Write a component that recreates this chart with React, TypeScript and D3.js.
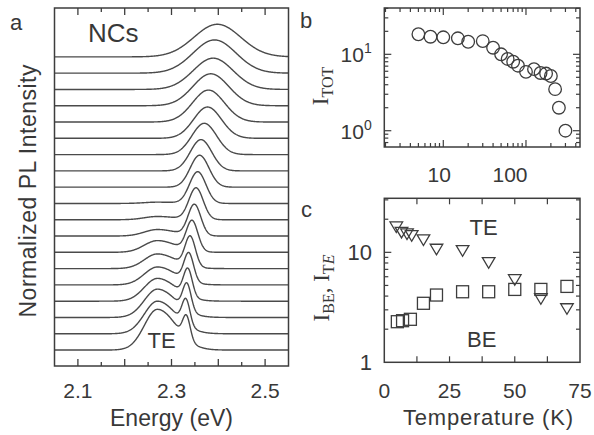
import React from 'react';
import * as d3 from 'd3';

// ---------- Panel a: PL spectra (top curve = index 0) ----------
const energyTicks = [2.1, 2.3, 2.5];
const peakEnergy = [2.398, 2.392, 2.389, 2.384, 2.379, 2.377, 2.37, 2.363, 2.36, 2.356, 2.3525, 2.349, 2.344, 2.34, 2.337, 2.335, 2.333, 2.331, 2.332];
const peakHeight = [1.0, 1.02, 0.96, 0.98, 0.98, 0.96, 0.96, 0.96, 0.98, 0.97, 0.97, 0.95, 0.92, 0.91, 0.86, 0.83, 0.81, 0.77, 0.7];
const peakFWHM = [0.117, 0.108, 0.1, 0.09, 0.08, 0.07, 0.062, 0.054, 0.047, 0.041, 0.036, 0.032, 0.029, 0.026, 0.024, 0.022, 0.021, 0.02, 0.019];
const teHeight = [0, 0, 0, 0, 0, 0, 0, 0, 0, 0.04, 0.1, 0.2, 0.36, 0.45, 0.55, 0.7, 0.87, 1.0, 1.25];
const teEnergy = [2.27];
const teSigma = [0.028, 0.04]; // low side, high side
const curveOffsetStep = [0.5];

// ---------- Panel b: total intensity vs T ----------
const tempTot = [5, 7, 10, 15, 20, 30, 40, 50, 60, 70, 80, 100, 125, 150, 175, 200, 225, 250, 300];
const iTot = [18.3, 17, 16.7, 16.2, 14.6, 14.9, 12.2, 10, 8.7, 8.0, 7.1, 5.9, 6.4, 5.7, 5.6, 5.2, 3.5, 2.0, 1.0];
const tempTickLabelsB = [10, 100];

// ---------- Panel c: BE and TE intensity vs T ----------
const tempBE = [5, 7, 10, 15, 20, 30, 40, 50, 60, 70];
const iBE = [2.34, 2.39, 2.46, 3.44, 4.09, 4.38, 4.38, 4.6, 4.6, 4.9];
const tempTE = [4.6, 6.6, 8.7, 10.5, 15, 20, 30, 40, 50, 60, 70];
const iTE = [16.9, 15.1, 14.6, 14.1, 12.9, 10.6, 10.3, 8.0, 5.6, 3.76, 3.05];
const tempTicksC = [0, 25, 50, 75];
const intTicksC = [1, 10];

const INK = '#3d3d3d';
const TXT = '#383838';
const SANS = "'Liberation Sans', Arial, Helvetica, sans-serif";
const SERIF = "'Liberation Serif', 'Times New Roman', Times, serif";

function gauss(e: number, c: number, sL: number, sR: number) {
  const s = e < c ? sL : sR;
  const z = (e - c) / s;
  return Math.exp(-0.5 * z * z);
}

export default function App() {
  // ----- panel a scales -----
  const ax = d3.scaleLinear().domain([2.05, 2.55]).range([54.5, 288.5]);
  const ay = d3.scaleLinear().domain([-0.49, 10.5]).range([366, 8]);
  const n = peakEnergy.length;
  const grid = d3.range(2.05, 2.5501, 0.001);
  const line = d3
    .line<[number, number]>()
    .x((d) => ax(d[0]))
    .y((d) => ay(d[1]));
  const curves = peakEnergy.map((pe, i) => {
    const off = (n - 1 - i) * curveOffsetStep[0];
    const sig = peakFWHM[i] / 2.355;
    const pts: [number, number][] = grid.map((e) => [
      e,
      off + peakHeight[i] * gauss(e, pe, sig, sig) + teHeight[i] * gauss(e, teEnergy[0], teSigma[0], teSigma[1]),
    ]);
    return line(pts) as string;
  });
  const aTicks = d3.range(2.1, 2.5001, 0.05);

  // ----- panel b scales -----
  const bx = d3.scaleLog().domain([1.935, 450]).range([384.3, 580]);
  const by = d3.scaleLog().domain([0.612, 40.4]).range([147, 8]);
  const bxTicks = bx.ticks().filter((v) => v > 1.94 && v < 449);
  const byTicks = by.ticks().filter((v) => v > 0.613 && v < 40.3);
  const isPow10 = (v: number) => Math.abs(Math.log10(v) - Math.round(Math.log10(v))) < 1e-6;

  // ----- panel c scales -----
  const cx = d3.scaleLinear().domain([0, 75]).range([384.3, 580]);
  const cy = d3.scaleLog().domain([1, 31]).range([362.3, 198.3]);
  const cxTicks = d3.range(12.5, 75, 12.5);
  const cyTicks = cy.ticks().filter((v) => v > 1 && v < 31);

  const tri = (x: number, y: number) => {
    const w = 6.3, h = 5.3;
    return `M${x - w},${y - h}L${x + w},${y - h}L${x},${y + h}Z`;
  };

  return (
    <svg width={594} height={435} style={{ display: 'block', position: 'absolute', left: 0, top: 0, background: '#fff' }}>
      <rect x={0} y={0} width={594} height={435} fill="#fff" />

      {/* ===== Panel a ===== */}
      <g>
        {curves.map((d, i) => (
          <path key={i} d={d} fill="none" stroke="#4a4a4a" strokeWidth={1.4} />
        ))}
        {aTicks.map((v, i) => {
          const major = Math.abs(v * 10 - Math.round(v * 10)) < 1e-6;
          const len = major ? 7 : 4;
          const x = ax(v);
          return (
            <g key={i}>
              <line x1={x} x2={x} y1={366} y2={366 - len} stroke={INK} strokeWidth={1.3} />
              <line x1={x} x2={x} y1={8} y2={8 + len} stroke={INK} strokeWidth={1.3} />
            </g>
          );
        })}
        <rect x={54.5} y={8} width={234} height={358} fill="none" stroke={INK} strokeWidth={1.5} />
        {energyTicks.map((v) => (
          <text key={v} x={ax(v)} y={398} fontSize={21} fontFamily={SANS} fill={TXT} textAnchor="middle">
            {v.toFixed(1)}
          </text>
        ))}
        <text x={171.5} y={426} fontSize={23} fontFamily={SANS} fill={TXT} textAnchor="middle" textLength={123} lengthAdjust="spacing">
          Energy (eV)
        </text>
        <text
          transform="translate(36,191) rotate(-90)"
          fontSize={23}
          fontFamily={SANS}
          fill={TXT}
          textAnchor="middle"
          textLength={253}
          lengthAdjust="spacing"
        >
          Normalized PL Intensity
        </text>
        <text x={10} y={30} fontSize={22} fontFamily={SANS} fill={TXT}>a</text>
        <text x={88} y={42} fontSize={26} fontFamily={SANS} fill={TXT}>NCs</text>
        <text x={161.5} y={348} fontSize={22} fontFamily={SANS} fill={TXT} textAnchor="middle">TE</text>
      </g>

      {/* ===== Panel b ===== */}
      <g>
        {bxTicks.map((v, i) => {
          const len = isPow10(v) ? 7 : 4;
          const x = bx(v);
          return (
            <g key={i}>
              <line x1={x} x2={x} y1={147} y2={147 - len} stroke={INK} strokeWidth={1.2} />
              <line x1={x} x2={x} y1={8} y2={8 + len} stroke={INK} strokeWidth={1.2} />
            </g>
          );
        })}
        {byTicks.map((v, i) => {
          const len = isPow10(v) ? 7 : 4;
          const y = by(v);
          return (
            <g key={i}>
              <line x1={384.3} x2={384.3 + len} y1={y} y2={y} stroke={INK} strokeWidth={1.2} />
              <line x1={580} x2={580 - len} y1={y} y2={y} stroke={INK} strokeWidth={1.2} />
            </g>
          );
        })}
        <rect x={384.3} y={8} width={195.7} height={139} fill="none" stroke={INK} strokeWidth={1.5} />
        {tempTot.map((t, i) => (
          <circle key={i} cx={bx(t)} cy={by(iTot[i])} r={6.3} fill="none" stroke={INK} strokeWidth={1.3} />
        ))}
        {[1, 0].map((p) => (
          <text key={p} x={371.7} y={by(Math.pow(10, p)) + 8} fontSize={21} fontFamily={SANS} fill={TXT} textAnchor="end">
            10<tspan fontSize={14} dy={-9}>{p}</tspan>
          </text>
        ))}
        {tempTickLabelsB.map((v, i) => (
          <text key={v} x={bx(v) + (i === 0 ? -4 : -16)} y={181.5} fontSize={21} fontFamily={SANS} fill={TXT} textAnchor="middle">
            {v}
          </text>
        ))}
        <text transform="translate(328,86) rotate(-90)" fontFamily={SERIF} fill={TXT} textAnchor="middle">
          <tspan fontSize={23}>I</tspan>
          <tspan fontSize={16} dy={5}>TOT</tspan>
        </text>
        <text x={300} y={28} fontSize={22} fontFamily={SANS} fill={TXT}>b</text>
      </g>

      {/* ===== Panel c ===== */}
      <g>
        {cxTicks.map((v, i) => {
          const x = cx(v);
          return (
            <g key={i}>
              <line x1={x} x2={x} y1={362.3} y2={362.3 - 6} stroke={INK} strokeWidth={1.2} />
              <line x1={x} x2={x} y1={198.3} y2={198.3 + 6} stroke={INK} strokeWidth={1.2} />
            </g>
          );
        })}
        {cyTicks.map((v, i) => {
          const len = isPow10(v) ? 7 : 4;
          const y = cy(v);
          return (
            <g key={i}>
              <line x1={384.3} x2={384.3 + len} y1={y} y2={y} stroke={INK} strokeWidth={1.2} />
              <line x1={580} x2={580 - len} y1={y} y2={y} stroke={INK} strokeWidth={1.2} />
            </g>
          );
        })}
        <rect x={384.3} y={198.3} width={195.7} height={164} fill="none" stroke={INK} strokeWidth={1.5} />
        {tempBE.map((t, i) => (
          <rect key={i} x={cx(t) - 6} y={cy(iBE[i]) - 6} width={12} height={12} fill="none" stroke={INK} strokeWidth={1.3} />
        ))}
        {tempTE.map((t, i) => (
          <path key={i} d={tri(cx(t), cy(iTE[i]))} fill="none" stroke={INK} strokeWidth={1.3} />
        ))}
        {intTicksC.map((v) => (
          <text key={v} x={372} y={cy(v) + 8} fontSize={22} fontFamily={SANS} fill={TXT} textAnchor="end">
            {v}
          </text>
        ))}
        {tempTicksC.map((v) => (
          <text key={v} x={cx(v)} y={398} fontSize={21} fontFamily={SANS} fill={TXT} textAnchor="middle">
            {v}
          </text>
        ))}
        <text x={488} y={425} fontSize={22} fontFamily={SANS} fill={TXT} textAnchor="middle" textLength={170} lengthAdjust="spacing">
          Temperature (K)
        </text>
        <text x={483.5} y={235} fontSize={22} fontFamily={SANS} fill={TXT} textAnchor="middle">TE</text>
        <text x={481.7} y={346.7} fontSize={22} fontFamily={SANS} fill={TXT} textAnchor="middle">BE</text>
        <text transform="translate(329,288) rotate(-90)" fontFamily={SERIF} fill={TXT} textAnchor="middle">
          <tspan fontSize={23}>I</tspan>
          <tspan fontSize={16} dy={5}>BE</tspan>
          <tspan fontSize={23} dy={-5}>, I</tspan>
          <tspan fontSize={16} dy={5}>T</tspan>
          <tspan fontSize={16} fontStyle="italic">E</tspan>
        </text>
        <text x={301} y={217} fontSize={22} fontFamily={SANS} fill={TXT}>c</text>
      </g>
    </svg>
  );
}
